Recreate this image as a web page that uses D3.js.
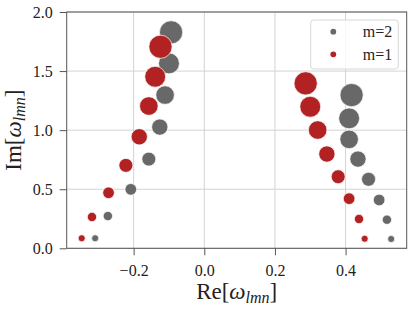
<!DOCTYPE html>
<html>
<head>
<meta charset="utf-8">
<script src="https://cdn.jsdelivr.net/npm/d3@7"></script>
<style>
	body { margin: 0; background: #fff; }
	text { font-family: "Liberation Serif", serif; }
</style>
</head>
<body>
<div id="chart"></div>
<script>
var chart_width = 415;
var chart_height = 312;
var margin = {top: 12, right: 8.3, bottom: 63.7, left: 66.7};

// Data: overtone index n, and Re / Im of the frequencies for each branch
var overtone = [0, 1, 2, 3, 4, 5, 6, 7];

var m2_left_re = [-0.309, -0.273, -0.208, -0.157, -0.126, -0.111, -0.100, -0.094];
var m2_left_im = [0.085, 0.273, 0.499, 0.755, 1.026, 1.297, 1.565, 1.828];
var m2_right_re = [0.529, 0.517, 0.495, 0.465, 0.435, 0.410, 0.410, 0.417];
var m2_right_im = [0.079, 0.242, 0.409, 0.584, 0.755, 0.922, 1.100, 1.297];

var m1_left_re = [-0.347, -0.318, -0.271, -0.222, -0.184, -0.157, -0.139, -0.124];
var m1_left_im = [0.085, 0.265, 0.470, 0.702, 0.944, 1.204, 1.452, 1.706];
var m1_right_re = [0.454, 0.438, 0.410, 0.379, 0.347, 0.321, 0.300, 0.287];
var m1_right_im = [0.081, 0.248, 0.420, 0.606, 0.798, 1.001, 1.198, 1.396];

var series_names = ['m=2', 'm=1'];
var series_colors = ['#686868', '#b22222'];

var x_ticks = [-0.2, 0.0, 0.2, 0.4];
var y_ticks = [0.0, 0.5, 1.0, 1.5, 2.0];

var w = chart_width - margin.left - margin.right;
var h = chart_height - margin.top - margin.bottom;

var x = d3.scaleLinear().domain([-0.3895, 0.573]).range([0, w]);
var y = d3.scaleLinear().domain([0, 2]).range([h, 0]);
var r = d3.scaleLinear().domain([0, 7]).range([3.5, 11.6]);

var fmt = function(d){ return d3.format('.1f')(d).replace('-', '\u2212'); };

var svg = d3.select('#chart')
			.append('svg')
			.attr('width', chart_width)
			.attr('height', chart_height);

var g = svg.append('g')
			.attr('transform', 'translate(' + margin.left + ',' + margin.top + ')');

// Grid
g.selectAll('.xgrid')
	.data(x_ticks)
	.enter()
	.append('line')
	.attr('x1', function(d){ return x(d); })
	.attr('x2', function(d){ return x(d); })
	.attr('y1', 0)
	.attr('y2', h)
	.attr('stroke', '#d3d3d3')
	.attr('stroke-width', 1);

g.selectAll('.ygrid')
	.data(y_ticks)
	.enter()
	.append('line')
	.attr('x1', 0)
	.attr('x2', w)
	.attr('y1', function(d){ return y(d); })
	.attr('y2', function(d){ return y(d); })
	.attr('stroke', '#d3d3d3')
	.attr('stroke-width', 1);

function make_points(re, im){
	return overtone.map(function(n, i){
		return {n: n, re: re[i], im: im[i]};
	});
}

var series = [
	make_points(m2_left_re, m2_left_im).concat(make_points(m2_right_re, m2_right_im)),
	make_points(m1_left_re, m1_left_im).concat(make_points(m1_right_re, m1_right_im))
];

series.forEach(function(pts, k){
	g.append('g')
		.selectAll('circle')
		.data(pts)
		.enter()
		.append('circle')
		.attr('cx', function(d){ return x(d.re); })
		.attr('cy', function(d){ return y(d.im); })
		.attr('r', function(d){ return r(d.n); })
		.attr('fill', series_colors[k])
		.attr('stroke', '#fff')
		.attr('stroke-width', 0.7);
});

// Axes
var x_axis = g.append('g')
	.attr('transform', 'translate(0,' + h + ')')
	.call(d3.axisBottom(x).tickValues(x_ticks).tickFormat(fmt).tickSize(7).tickPadding(9).tickSizeOuter(0));
var y_axis = g.append('g')
	.call(d3.axisLeft(y).tickValues(y_ticks).tickFormat(fmt).tickSize(7).tickPadding(7).tickSizeOuter(0));

[x_axis, y_axis].forEach(function(a){
	a.select('.domain').remove();
	a.selectAll('line').attr('stroke', '#555');
	a.selectAll('text')
		.attr('fill', '#222')
		.style('font-family', '"Liberation Serif", serif')
		.style('font-size', '16px');
});

// Frame
g.append('rect')
	.attr('x', 0)
	.attr('y', 0)
	.attr('width', w)
	.attr('height', h)
	.attr('fill', 'none')
	.attr('stroke', '#555')
	.attr('stroke-width', 1);

// Axis labels
var xl = svg.append('text')
	.attr('x', margin.left + w / 2)
	.attr('y', 299)
	.attr('text-anchor', 'middle')
	.attr('fill', '#222')
	.style('font-size', '23px');
xl.append('tspan').text('Re[');
xl.append('tspan').style('font-style', 'italic').text('\u03c9');
xl.append('tspan').style('font-style', 'italic').style('font-size', '16px').attr('dy', 4).text('lmn');
xl.append('tspan').attr('dy', -4).text(']');

var yl = svg.append('text')
	.attr('transform', 'translate(20.5,' + (margin.top + h / 2) + ') rotate(-90)')
	.attr('text-anchor', 'middle')
	.attr('fill', '#222')
	.style('font-size', '23px');
yl.append('tspan').text('Im[');
yl.append('tspan').style('font-style', 'italic').text('\u03c9');
yl.append('tspan').style('font-style', 'italic').style('font-size', '16px').attr('dy', 4).text('lmn');
yl.append('tspan').attr('dy', -4).text(']');

// Legend
var legend = svg.append('g').attr('transform', 'translate(310.7,20)');
legend.append('rect')
	.attr('width', 87.6)
	.attr('height', 49)
	.attr('rx', 3)
	.attr('fill', '#fff')
	.attr('fill-opacity', 0.8)
	.attr('stroke', '#d8d8d8')
	.attr('stroke-width', 1);

var items = legend.selectAll('.item')
	.data(series_names)
	.enter()
	.append('g')
	.attr('transform', function(d, i){ return 'translate(0,' + (11.7 + i * 22.6) + ')'; });
items.append('circle')
	.attr('cx', 22.6)
	.attr('r', 2.9)
	.attr('fill', function(d, i){ return series_colors[i]; });
items.append('text')
	.attr('x', 81.6)
	.attr('y', 5.5)
	.attr('text-anchor', 'end')
	.attr('fill', '#222')
	.style('font-size', '16px')
	.text(function(d){ return d; });
</script>
</body>
</html>
